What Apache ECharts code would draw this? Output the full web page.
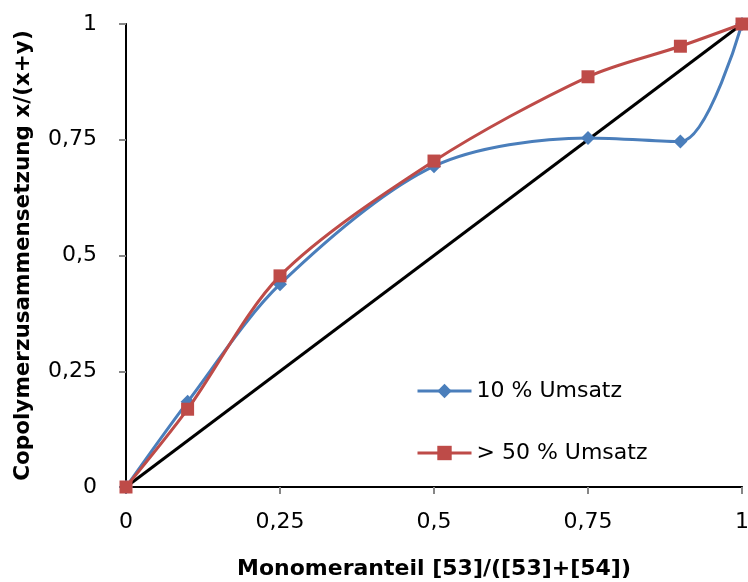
<!DOCTYPE html>
<html><head><meta charset="utf-8">
<script src="https://cdn.jsdelivr.net/npm/echarts@6/dist/echarts.min.js"></script>
<style>html,body{margin:0;padding:0;background:#fff}#c{width:748px;height:582px}</style>
</head><body><div id="c"></div>
<script>
const xValues = [0, 0.1, 0.25, 0.5, 0.75, 0.9, 1];
const umsatz10 = [0, 0.184, 0.438, 0.693, 0.754, 0.746, 1];
const umsatz50 = [0, 0.168, 0.456, 0.704, 0.886, 0.952, 1];
const diagX = [0, 1];
const diagY = [0, 1];
const xTicks = [0, 0.25, 0.5, 0.75, 1];
const yTicks = [0, 0.25, 0.5, 0.75, 1];
const seriesNames = ['10 % Umsatz', '> 50 % Umsatz'];

const fmt = v => String(v).replace('.', ',');
const pairs = (xs, ys) => xs.map((x, i) => [x, ys[i]]);
const FONT = 'DejaVu Sans';

const chart = echarts.init(document.getElementById('c'), null, {renderer: 'canvas'});
chart.setOption({
  animation: false,
  backgroundColor: '#fff',
  grid: {left: 126, right: 6, top: 24, bottom: 95, containLabel: false, outerBoundsMode: 'none'},
  legend: {
    data: seriesNames,
    orient: 'vertical',
    left: 416, top: 380, padding: 0,
    itemWidth: 54, itemHeight: 18, itemGap: 40,
    lineStyle: {width: 3},
    textStyle: {fontFamily: FONT, fontSize: 22, color: '#000'}
  },
  xAxis: [{
    type: 'value', min: 0, max: 1, interval: 0.25,
    name: 'Monomeranteil [53]/([53]+[54])', nameLocation: 'middle', nameGap: 71,
    nameTextStyle: {fontFamily: FONT, fontSize: 22, fontWeight: 'bold', color: '#000'},
    axisLine: {show: true, onZero: false, lineStyle: {color: '#868686', width: 2}},
    axisTick: {show: true, length: 7, lineStyle: {color: '#868686', width: 2}},
    axisLabel: {fontFamily: FONT, fontSize: 22, color: '#000', margin: 24, formatter: fmt},
    splitLine: {show: false}
  }, {
    type: 'value', min: 0, max: 1, position: 'top',
    axisLine: {show: true, lineStyle: {color: '#000', width: 2}},
    axisTick: {show: false}, axisLabel: {show: false}, splitLine: {show: false}
  }],
  yAxis: [{
    type: 'value', min: 0, max: 1, interval: 0.25,
    name: 'Copolymerzusammensetzung x/(x+y)', nameLocation: 'middle', nameGap: 92,
    nameTextStyle: {fontFamily: FONT, fontSize: 21.5, fontWeight: 'bold', color: '#000'},
    axisLine: {show: true, onZero: false, lineStyle: {color: '#868686', width: 2}},
    axisTick: {show: true, length: 7, lineStyle: {color: '#868686', width: 2}},
    axisLabel: {fontFamily: FONT, fontSize: 22, color: '#000', margin: 29, formatter: fmt},
    splitLine: {show: false}
  }, {
    type: 'value', min: 0, max: 1, position: 'right',
    axisLine: {show: true, lineStyle: {color: '#000', width: 2}},
    axisTick: {show: false}, axisLabel: {show: false}, splitLine: {show: false}
  }],
  series: [
    {
      name: 'diag', type: 'line', data: pairs(diagX, diagY), showSymbol: false, symbol: 'none',
      lineStyle: {color: '#000', width: 3}, z: 1, silent: true
    },
    {
      name: seriesNames[0], type: 'line', data: pairs(xValues, umsatz10), smooth: 0.3,
      symbol: 'diamond', symbolSize: 14,
      itemStyle: {color: '#4a7ebb'}, lineStyle: {color: '#4a7ebb', width: 3}, z: 2
    },
    {
      name: seriesNames[1], type: 'line', data: pairs(xValues, umsatz50), smooth: 0.3,
      symbol: 'rect', symbolSize: 13,
      itemStyle: {color: '#be4b48'}, lineStyle: {color: '#be4b48', width: 3}, z: 3
    }
  ]
});
</script></body></html>
